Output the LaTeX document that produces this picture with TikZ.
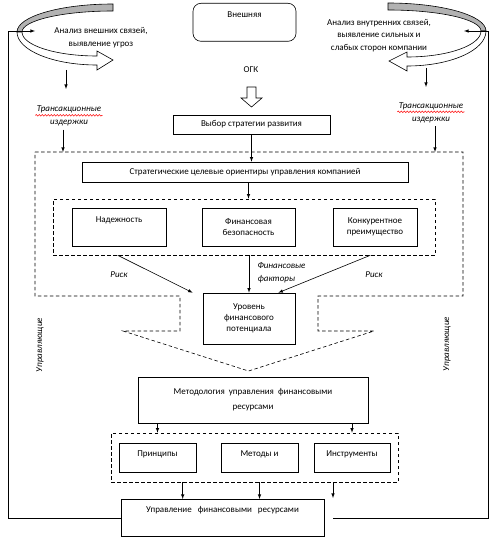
\documentclass[tikz,border=0pt]{standalone}
\usepackage{fontspec}
\setmainfont{Carlito}
\usepackage{xcolor}
\usepackage{tikz}
\usetikzlibrary{decorations.pathmorphing}

\begin{document}
\begin{tikzpicture}[x=1pt,y=-1pt,
  font=\fontsize{9}{11}\selectfont,
  caja/.style={draw,line width=0.6pt,inner sep=2pt,align=center},
  tope/.style 2 args={anchor=north,inner ysep=0pt,text height=#1,text depth=#2},
  marco/.style={draw,line width=0.6pt,dash pattern=on 3.5pt off 2.5pt,inner sep=0pt},
  flecha/.style={line width=0.6pt,-latex},
  rotulo/.style={font=\fontsize{9}{13}\selectfont\itshape},
  onda/.style={red,line width=0.5pt,decorate,decoration={snake,amplitude=0.8pt,segment length=3pt}}
]
  \fill[white] (0,0) rectangle (496,540);
  \useasboundingbox (0,0) rectangle (496,540);

  % curved arrows
  \draw[line width=0.6pt,fill=black!30] (113,4) arc[start angle=270,end angle=180,x radius=96,y radius=28]
    -- (22,32) arc[start angle=180,end angle=270,x radius=91,y radius=21] -- cycle;
  \draw[line width=0.6pt,fill=white] (17,32) arc[start angle=180,end angle=90,x radius=80,y radius=33]
    -- (97,70) -- (113,60) -- (97,51) -- (97,56)
    arc[start angle=90,end angle=180,x radius=75,y radius=24] -- cycle;
  \draw[line width=0.6pt,fill=black!30] (388,3) arc[start angle=270,end angle=360,x radius=98,y radius=28]
    -- (481,31) arc[start angle=0,end angle=-90,x radius=93,y radius=21] -- cycle;
  \draw[line width=0.6pt,fill=white] (486,31) arc[start angle=0,end angle=90,x radius=79,y radius=35]
    -- (407,71) -- (389,61) -- (407,52) -- (407,57)
    arc[start angle=90,end angle=0,x radius=74,y radius=26] -- cycle;

  \node[align=center,font=\fontsize{9}{13}\selectfont] (an1) at (101,38) {Анализ внешних связей,\\выявление угроз};
  \node[align=center,font=\fontsize{9}{12.5}\selectfont] (an2) at (379,35.5) {Анализ внутренних связей,\\выявление сильных и\\слабых сторон компании};

  \node[caja,rounded corners=8pt,minimum width=103,tope={14pt}{24pt}] (ext) at (244.5,3) {Внешняя};
  \node (ogk) at (251,70) {ОГК};
  \draw[line width=0.6pt,fill=white] (247,87) -- (256,87) -- (256,98) -- (262,98) -- (251.5,107) -- (241,98) -- (247,98) -- cycle;

  \node[rotulo,align=center] (tr1) at (69,116) {Трансакционные\\издержки};
  \node[rotulo,align=center] (tr2) at (431,112.5) {Трансакционные\\издержки};
  \draw[onda] ([xshift=2pt,yshift=-13pt]tr1.north west) -- ([xshift=-2pt,yshift=-13pt]tr1.north east);
  \draw[onda] ([xshift=2pt,yshift=-13pt]tr2.north west) -- ([xshift=-2pt,yshift=-13pt]tr2.north east);

  \node[caja,minimum width=157,minimum height=19] (vyb) at (251.5,124.5) {Выбор стратегии развития};

  % outer dashed frame
  \draw[marco] (35,152) -- (463,152) -- (463,296) -- (318,296) -- (318,331) -- (374,331) -- (248.5,371)
    -- (123,331) -- (180,331) -- (180,296) -- (35,296) -- cycle;

  \node[caja,minimum width=326,minimum height=20] (est) at (245,172) {Стратегические целевые ориентиры управления компанией};
  \node[marco,minimum width=382,minimum height=56] (m1) at (244,227) {};
  \node[caja,minimum width=94,tope={14pt}{24pt}] (nad) at (119,208) {Надежность};
  \node[caja,minimum width=93,minimum height=38] (fin) at (248.5,227) {Финансовая\\безопасность};
  \node[caja,minimum width=84,minimum height=38] (kon) at (375,227) {Конкурентное\\преимущество};

  \node[caja,minimum width=92,minimum height=51] (niv) at (249,318.5) {Уровень\\финансового\\потенциала};
  \node[rotulo] (r1) at (119,275) {Риск};
  \node[rotulo] (r2) at (374,275) {Риск};
  \node[rotulo,align=left,anchor=west] (fac) at (254,272.5) {Финансовые\\факторы};
  \node[rotulo,rotate=90] (u1) at (40,345) {Управляющие};
  \node[rotulo,rotate=90] (u2) at (447,344) {Управляющие};

  \node[caja,minimum width=230,minimum height=46,font=\fontsize{9}{15}\selectfont] (met) at (253,400) {Методология\ \ управления\ \ финансовыми\\ресурсами};
  \node[marco,minimum width=287,minimum height=49] (m2) at (254.5,457.5) {};
  \node[caja,minimum width=77,tope={13pt}{16pt}] (pri) at (157.5,443) {Принципы};
  \node[caja,minimum width=77,tope={13pt}{16pt}] (mtd) at (259.5,443) {Методы и};
  \node[caja,minimum width=76,tope={13pt}{16pt}] (ins) at (352,443) {Инструменты};
  \node[caja,minimum width=203,tope={13pt}{24pt}] (upr) at (222.5,499) {Управление\hspace{6pt}финансовыми\hspace{6pt}ресурсами};

  \coordinate (lz) at (8,31);
  \coordinate (lf) at (35,31);
  \coordinate (rz) at (488,31);
  \coordinate (rf) at (464,31);
  \coordinate (rb) at (333,518);
  \coordinate (a3) at (333,498);
  \coordinate (p1) at (66,70);
  \coordinate (q1) at (66,89);
  \coordinate (p2) at (426,68);
  \coordinate (q2) at (426,87);
  \coordinate (t1) at (63,152);
  \coordinate (t2) at (435,152);

  \draw[flecha] (p1) -- (q1);
  \draw[flecha] (p2) -- (q2);
  \draw[flecha] (tr1.south -| t1) -- (t1);
  \draw[flecha] (tr2.south -| t2) -- (t2);
  \draw[flecha] (vyb.south) -- (vyb.south |- est.north);
  \draw[flecha] (fin.north |- est.south) -- (fin.north |- m1.north);
  \draw[flecha] (niv.north |- m1.south) -- (niv.north);
  \draw[flecha] ([xshift=65pt]m1.south west) -- ([xshift=-10pt]niv.north west);
  \draw[flecha] ([xshift=-65pt]m1.south east) -- ([xshift=-17pt]niv.north east);
  \draw[flecha] (pri.north |- met.south) -- (pri.north |- m2.north);
  \draw[flecha] (ins.north |- met.south) -- (ins.north |- m2.north);
  \draw[flecha] ([xshift=72pt]m2.south west) -- ([xshift=72pt]m2.south west |- upr.north);
  \draw[flecha] (mtd.south |- m2.south) -- (mtd.south |- upr.north);
  \draw[flecha] (a3 |- m2.south) -- (a3);
  % feedback loops
  \draw[flecha] (upr.west) -| (lz) -- (lf);
  \draw[flecha] (rb) -| (rz) -- (rf);
\end{tikzpicture}
\end{document}
